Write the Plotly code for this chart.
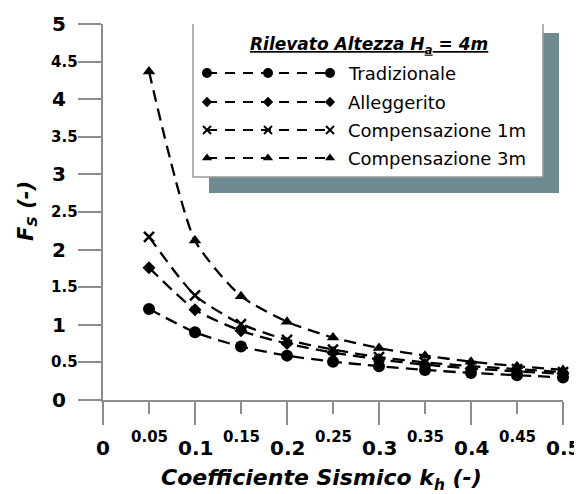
import plotly.graph_objects as go

# ---- data ----
kh = [0.05, 0.10, 0.15, 0.20, 0.25, 0.30, 0.35, 0.40, 0.45, 0.50]
fs_tradizionale = [1.21, 0.90, 0.71, 0.59, 0.51, 0.45, 0.40, 0.36, 0.33, 0.30]
fs_alleggerito = [1.76, 1.20, 0.92, 0.75, 0.63, 0.54, 0.47, 0.42, 0.38, 0.35]
fs_comp1 = [2.17, 1.39, 1.01, 0.80, 0.67, 0.57, 0.50, 0.45, 0.41, 0.37]
fs_comp3 = [4.37, 2.12, 1.38, 1.04, 0.83, 0.69, 0.59, 0.51, 0.45, 0.40]

series_names = ["Tradizionale", "Alleggerito", "Compensazione 1m", "Compensazione 3m"]
series_values = [fs_tradizionale, fs_alleggerito, fs_comp1, fs_comp3]
series_symbols = ["circle", "diamond", "x-thin", "triangle-up"]
series_sizes = [12, 10, 10, 11]

x_major = [0, 0.1, 0.2, 0.3, 0.4, 0.5]
x_major_text = ["0", "0.1", "0.2", "0.3", "0.4", "0.5"]
x_minor = [0.05, 0.15, 0.25, 0.35, 0.45]
x_minor_text = ["0.05", "0.15", "0.25", "0.35", "0.45"]
y_ticks = [0, 0.5, 1, 1.5, 2, 2.5, 3, 3.5, 4, 4.5, 5]
y_tick_text = ["0", "0.5", "1", "1.5", "2", "2.5", "3", "3.5", "4", "4.5", "5"]

FONT = "DejaVu Sans, Arial, sans-serif"
AXC = "#8c8c8c"
DASH = "12px,7px"

# page has an 8px body margin; figure is sized so the plot lands where the reference has it
W, H = 574, 486
OFF = 8
PL, PR, PT, PB = 103, 563, 24, 400   # plot area in window pixels

fig = go.Figure()

for name, vals, sym, sz in zip(series_names, series_values, series_symbols, series_sizes):
    fig.add_trace(go.Scatter(
        x=kh, y=vals, name=name, mode="lines+markers",
        line=dict(color="black", width=2.3, dash=DASH, shape="spline", smoothing=0.6),
        marker=dict(symbol=sym, size=sz, color="black",
                    line=dict(color="black", width=2.5 if sym == "x-thin" else 0)),
        cliponaxis=False, showlegend=False,
    ))

# ---- custom legend (drawn on an overlaid pixel-space axis pair) ----
leg_y = [73, 102, 130, 158]
leg_x = [207, 268, 330]
for name, sym, sz, ly in zip(series_names, series_symbols, series_sizes, leg_y):
    fig.add_trace(go.Scatter(
        x=leg_x, y=[ly] * 3, mode="lines+markers", xaxis="x2", yaxis="y2",
        line=dict(color="black", width=2, dash="10px,8px"),
        marker=dict(symbol=sym, size=sz - 2, color="black",
                    line=dict(color="black", width=2 if sym == "x-thin" else 0)),
        showlegend=False, hoverinfo="skip", cliponaxis=False,
    ))
    fig.add_annotation(xref="x2", yref="y2", x=346, y=ly, text=name, showarrow=False,
                       xanchor="left", yanchor="middle",
                       font=dict(family=FONT, size=18, color="black"))

fig.add_annotation(xref="x2", yref="y2", x=369, y=45,
                   text="<b><i>Rilevato Altezza H<sub>a</sub> = 4m</i></b>",
                   showarrow=False, xanchor="center", yanchor="middle",
                   font=dict(family=FONT, size=17, color="black", lineposition="under"))

# shadow and box
fig.add_shape(type="rect", xref="x2", yref="y2", x0=209, x1=559, y0=33, y1=193,
              fillcolor="#6e8b92", line=dict(width=0), layer="below")
fig.add_shape(type="rect", xref="x2", yref="y2", x0=193, x1=543, y0=18, y1=177,
              fillcolor="white", line=dict(color="#999999", width=1.5), layer="below")

# ---- tick labels as annotations ----
for v, t in zip(x_major, x_major_text):
    fig.add_annotation(xref="x", yref="y", x=v, y=0, yshift=-48, text="<b>" + t + "</b>",
                       showarrow=False, xanchor="center", yanchor="middle",
                       font=dict(family=FONT, size=20, color="black"))
for v, t in zip(x_minor, x_minor_text):
    fig.add_annotation(xref="x", yref="y", x=v, y=0, yshift=-37, text="<b>" + t + "</b>",
                       showarrow=False, xanchor="center", yanchor="middle",
                       font=dict(family=FONT, size=15, color="black"))
for v, t in zip(y_ticks, y_tick_text):
    is_int = float(v).is_integer()
    fig.add_annotation(xref="paper", yref="y", x=0, y=v,
                       xshift=-44 if is_int else -39,
                       text="<b>" + t + "</b>", showarrow=False,
                       xanchor="center", yanchor="middle",
                       font=dict(family=FONT, size=20 if is_int else 15, color="black"))

# axis titles
fig.add_annotation(xref="paper", yref="paper", x=(321 - PL) / (PR - PL), y=-(479 - PB) / (PB - PT),
                   text="<b><i>Coefficiente Sismico k<sub>h</sub> (-)</i></b>",
                   showarrow=False, xanchor="center", yanchor="middle",
                   font=dict(family=FONT, size=22, color="black"))
fig.add_annotation(xref="paper", yref="paper", x=-(PL - 27) / (PR - PL), y=(PB - 211) / (PB - PT),
                   text="<b><i>F<sub>S</sub> (-)</i></b>", textangle=-90,
                   showarrow=False, xanchor="center", yanchor="middle",
                   font=dict(family=FONT, size=21, color="black"))

fig.update_layout(
    width=W, height=H,
    margin=dict(l=PL - OFF, r=W + OFF - PR, t=PT - OFF, b=H + OFF - PB),
    paper_bgcolor="white", plot_bgcolor="white",
    showlegend=False,
    xaxis=dict(range=[0, 0.5], showgrid=False, zeroline=False,
               showline=True, linecolor=AXC, linewidth=1.5,
               tickmode="array", tickvals=x_major, ticks="outside", ticklen=23,
               tickwidth=1.5, tickcolor=AXC, showticklabels=False,
               minor=dict(tickvals=x_minor, ticks="outside", ticklen=12,
                          tickwidth=1.5, tickcolor=AXC)),
    yaxis=dict(range=[0, 5], showgrid=False, zeroline=False,
               showline=True, linecolor=AXC, linewidth=1.5,
               tickmode="array", tickvals=y_ticks, ticks="outside", ticklen=23,
               tickwidth=1.5, tickcolor=AXC, showticklabels=False),
    xaxis2=dict(range=[PL, PR], visible=False, overlaying="x", anchor="y2"),
    yaxis2=dict(range=[PB, PT], visible=False, overlaying="y", anchor="x2"),
)

fig.write_html("out.html")
